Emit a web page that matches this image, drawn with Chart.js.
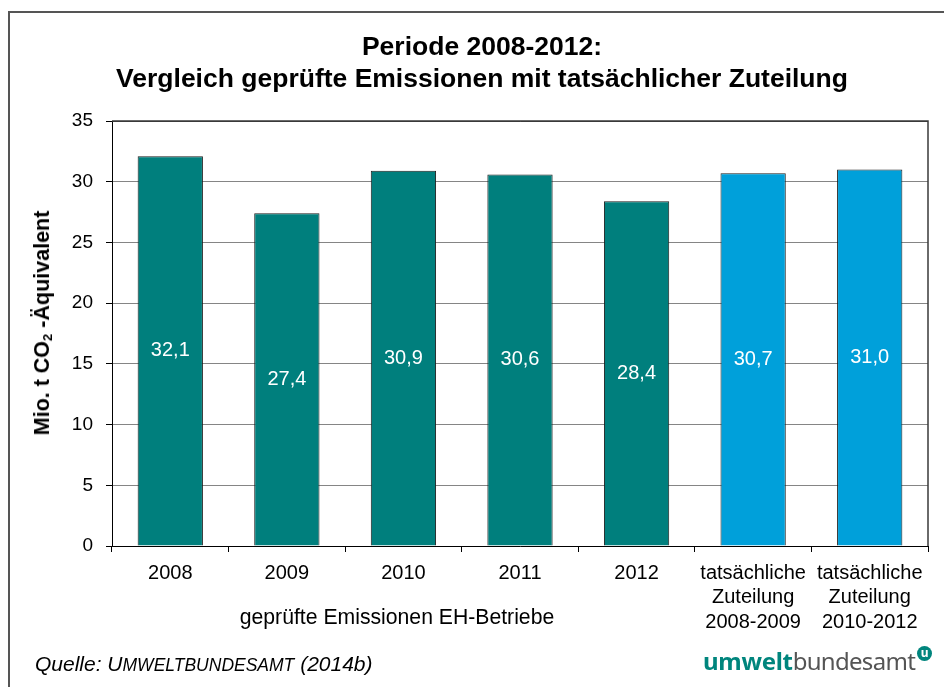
<!DOCTYPE html>
<html><head><meta charset="utf-8">
<script src="https://cdn.jsdelivr.net/npm/chart.js@4.4.0/dist/chart.umd.min.js"></script>
<style>
html,body{margin:0;padding:0;background:#fff;}
#wrap{position:relative;width:944px;height:687px;overflow:hidden;font-family:"Liberation Sans",Arial,sans-serif;color:#000;}
#frame{position:absolute;left:8px;top:11px;width:1000px;height:1000px;border-left:2px solid #555;border-top:2px solid #555;}
canvas{position:absolute;left:0;top:0;}
#title{position:absolute;left:0;width:964px;top:31px;text-align:center;font-weight:bold;font-size:26.5px;line-height:31.5px;}
#ytitle{position:absolute;left:42px;top:323px;transform:translate(-50%,-50%) rotate(-90deg);white-space:nowrap;font-weight:bold;font-size:21.5px;line-height:24px;}
#ytitle sub{font-size:13px;vertical-align:-3px;line-height:0;}
#group{position:absolute;left:397px;top:605px;transform:translateX(-50%);white-space:nowrap;font-size:21.2px;line-height:24px;}
#source{position:absolute;left:35px;top:652px;white-space:nowrap;font-style:italic;font-size:21px;line-height:24px;}
#source .sc{font-size:17.5px;}
#logo{position:absolute;left:703px;top:646px;white-space:nowrap;font-family:"Noto Sans",sans-serif;font-size:24px;line-height:30px;color:#555;}
#logo .um{color:#00857d;font-weight:bold;letter-spacing:-0.3px;}
#logo .bu{letter-spacing:-0.7px;}
#logo .dot{display:inline-block;width:15px;height:15px;border-radius:50%;background:#00857d;color:#fff;font-size:12px;line-height:13px;text-align:center;font-weight:bold;vertical-align:13px;margin-left:2px;letter-spacing:0;}
</style></head>
<body>
<div id="wrap">
  <div id="frame"></div>
  <canvas id="c" width="944" height="687"></canvas>
  <div id="title">Periode 2008-2012:<br>Vergleich geprüfte Emissionen mit tatsächlicher Zuteilung</div>
  <div id="ytitle">Mio. t CO<sub>2</sub> -Äquivalent</div>
  <div id="group">geprüfte Emissionen EH-Betriebe</div>
  <div id="source">Quelle: U<span class="sc">MWELTBUNDESAMT</span> (2014b)</div>
  <div id="logo"><span class="um">umwelt</span><span class="bu">bundesamt</span><span class="dot">u</span></div>
</div>
<script>
const categories = ['2008', '2009', '2010', '2011', '2012',
  ['tatsächliche', 'Zuteilung', '2008-2009'],
  ['tatsächliche', 'Zuteilung', '2010-2012']];
const values = [32.1, 27.4, 30.9, 30.6, 28.4, 30.7, 31.0];
const barColors = ['#007f7d', '#007f7d', '#007f7d', '#007f7d', '#007f7d', '#00a0da', '#00a0da'];
const yMin = 0, yMax = 35, yStep = 5;

const valueLabels = {
  id: 'valueLabels',
  afterDatasetsDraw(chart) {
    const ctx = chart.ctx;
    const meta = chart.getDatasetMeta(0);
    ctx.save();
    ctx.fillStyle = '#fff';
    ctx.font = '20px "Liberation Sans", Arial, sans-serif';
    ctx.textAlign = 'center';
    ctx.textBaseline = 'middle';
    meta.data.forEach((bar, i) => {
      const v = chart.data.datasets[0].data[i];
      ctx.fillText(v.toFixed(1).replace('.', ','), bar.x, (bar.y + bar.base) / 2);
    });
    ctx.restore();
  }
};
const plotBorder = {
  id: 'plotBorder',
  afterDraw(chart) {
    const a = chart.chartArea, ctx = chart.ctx;
    ctx.save();
    ctx.strokeStyle = '#3a3a3a';
    ctx.lineWidth = 1.5;
    ctx.beginPath();
    ctx.moveTo(a.left, a.top);
    ctx.lineTo(a.right, a.top);
    ctx.lineTo(a.right, a.bottom);
    ctx.stroke();
    ctx.restore();
  }
};

new Chart(document.getElementById('c'), {
  type: 'bar',
  data: {
    labels: categories,
    datasets: [{
      data: values,
      backgroundColor: barColors,
      borderColor: '#1e1e1e',
      borderWidth: 1,
      categoryPercentage: 1,
      barPercentage: 0.56
    }]
  },
  options: {
    responsive: false,
    animation: false,
    devicePixelRatio: 1,
    layout: { padding: { left: 0, right: 16, top: 121, bottom: 0 } },
    plugins: { legend: { display: false }, title: { display: false }, tooltip: { enabled: false } },
    scales: {
      x: {
        afterFit(s) { s.height = 141; },
        grid: { offset: true, drawOnChartArea: false, drawTicks: true, tickLength: 6, tickColor: '#000' },
        border: { color: '#000', width: 1 },
        ticks: {
          autoSkip: false, maxRotation: 0, minRotation: 0, padding: 9, color: '#000',
          font: { family: '"Liberation Sans", Arial, sans-serif', size: 20, lineHeight: 1.22 }
        }
      },
      y: {
        min: yMin, max: yMax,
        afterFit(s) { s.width = 112; },
        grid: {
          color: (c) => (c.tick && c.tick.value === yMax) ? '#3a3a3a' : '#858585',
          lineWidth: 1, tickLength: 6, tickColor: '#000'
        },
        border: { color: '#000', width: 1 },
        ticks: {
          stepSize: yStep, padding: 13, color: '#000',
          font: { family: '"Liberation Sans", Arial, sans-serif', size: 19 }
        }
      }
    }
  },
  plugins: [valueLabels, plotBorder]
});
</script>
</body></html>
